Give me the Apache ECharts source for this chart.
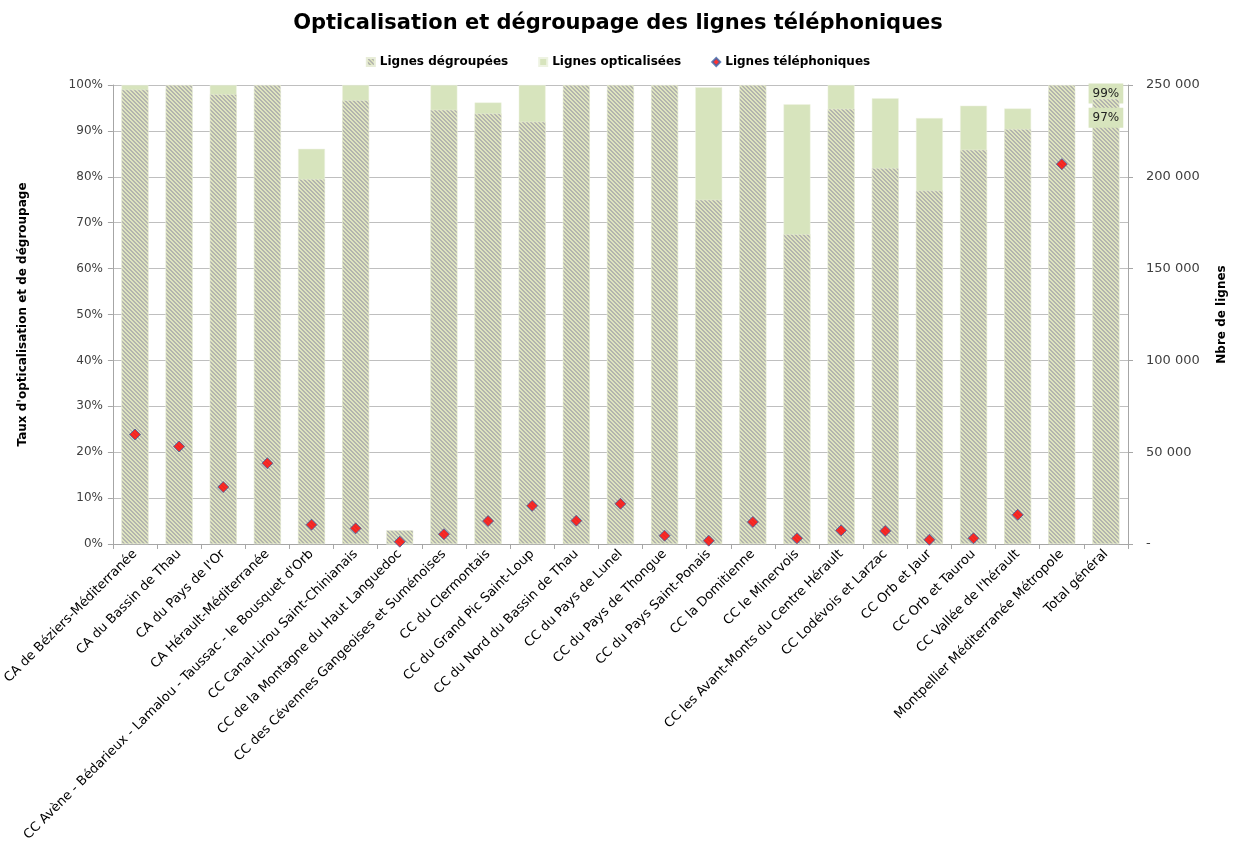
<!DOCTYPE html>
<html>
<head>
<meta charset="utf-8">
<script src="https://cdn.jsdelivr.net/npm/echarts@6/dist/echarts.min.js"></script>
<style>
html,body{margin:0;padding:0;background:#fff;}
#chart{width:1236px;height:844px;}
</style>
</head>
<body>
<div id="chart"></div>
<script>
const categories = [
  "CA de Béziers-Méditerranée",
  "CA du Bassin de Thau",
  "CA du Pays de l'Or",
  "CA Hérault-Méditerranée",
  "CC Avène - Bédarieux - Lamalou - Taussac - le Bousquet d'Orb",
  "CC Canal-Lirou Saint-Chinianais",
  "CC de la Montagne du Haut Languedoc",
  "CC des Cévennes Gangeoises et Suménoises",
  "CC du Clermontais",
  "CC du Grand Pic Saint-Loup",
  "CC du Nord du Bassin de Thau",
  "CC du Pays de Lunel",
  "CC du Pays de Thongue",
  "CC du Pays Saint-Ponais",
  "CC la Domitienne",
  "CC le Minervois",
  "CC les Avant-Monts du Centre Hérault",
  "CC Lodévois et Larzac",
  "CC Orb et Jaur",
  "CC Orb et Taurou",
  "CC Vallée de l'hérault",
  "Montpellier Méditerranée Métropole",
  "Total général"
];
// taux de dégroupage (%)
const degroupees = [99, 100, 98, 100, 79.5, 96.7, 3, 94.6, 93.8, 92, 100, 100, 100, 75, 100, 67.5, 94.8, 81.9, 77, 85.9, 90.4, 100, 97];
// taux d'opticalisation (%)
const opticalisees = [100, 99, 100, 99, 86.1, 100, 0, 100, 96.2, 100, 99, 99, 99, 99.5, 99, 95.8, 100, 97.1, 92.8, 95.5, 94.9, 99, 99];
// nombre de lignes téléphoniques
const telephoniques = [59600, 53100, 31000, 44000, 10500, 8500, 1250, 5300, 12500, 20800, 12700, 21900, 4500, 1800, 12000, 3100, 7400, 7100, 2300, 3100, 15900, 206900, null];
const leftTicks = [0, 10, 20, 30, 40, 50, 60, 70, 80, 90, 100];
const rightTicks = [0, 50000, 100000, 150000, 200000, 250000];
const labelledCategory = "Total général";

// hatch pattern for "Lignes dégroupées"
function makeHatch() {
  const c = document.createElement('canvas');
  c.width = 4; c.height = 4;
  const ctx = c.getContext('2d');
  ctx.fillStyle = '#DEE4BF';
  ctx.fillRect(0, 0, 4, 4);
  ctx.fillStyle = '#B3B4AE';
  for (let y = 0; y < 4; y++) {
    for (let x = 0; x < 4; x++) {
      const d = ((x - y) % 4 + 4) % 4;
      if (d === 0 || d === 1) ctx.fillRect(x, y, 1, 1);
    }
  }
  return c;
}
const hatch = { image: makeHatch(), repeat: 'repeat' };
const FONT = 'DejaVu Sans';
const lightGreen = '#D7E4BD';

const totalIdx = categories.indexOf(labelledCategory);
function withLabel(arr, dy) {
  return arr.map((v, i) => i === totalIdx ? {
    value: v,
    label: {
      show: true, position: 'insideTop', distance: 0, offset: [0, dy],
      formatter: p => Math.round(p.value) + '%',
      backgroundColor: lightGreen, color: '#222', fontFamily: FONT, fontSize: 12,
      padding: [4, 4]
    }
  } : v);
}
const optData = withLabel(opticalisees, -6);
const degData = withLabel(degroupees, 9);

const chart = echarts.init(document.getElementById('chart'));
chart.setOption({
  animation: false,
  textStyle: { fontFamily: FONT },
  title: {
    text: 'Opticalisation et dégroupage des lignes téléphoniques',
    left: 'center', top: 8,
    textStyle: { fontFamily: FONT, fontSize: 21, fontWeight: 'bold', color: '#000' }
  },
  legend: {
    top: 51, left: 'center', itemGap: 30, itemWidth: 8, itemHeight: 8,
    data: [
      { name: 'Lignes dégroupées', icon: 'rect' },
      { name: 'Lignes opticalisées', icon: 'rect' },
      { name: 'Lignes téléphoniques', icon: 'diamond' }
    ],
    textStyle: { fontFamily: FONT, fontSize: 12, fontWeight: 'bold', color: '#000' }
  },
  grid: { left: 112, right: 106, top: 85, bottom: 299, containLabel: false },
  xAxis: {
    type: 'category', data: categories,
    axisLine: { lineStyle: { color: '#A6A6A6' } },
    axisTick: { show: true, alignWithLabel: false, lineStyle: { color: '#A6A6A6' }, length: 5 },
    axisLabel: { rotate: 45, interval: 0, fontFamily: FONT, fontSize: 13, color: '#000', margin: 8 }
  },
  yAxis: [
    {
      type: 'value', min: 0, max: 100, interval: 10,
      name: "Taux d'opticalisation et de dégroupage",
      nameLocation: 'middle', nameGap: 84, nameRotate: 90,
      nameTextStyle: { fontFamily: FONT, fontSize: 12, fontWeight: 'bold', color: '#000' },
      axisLine: { show: true, lineStyle: { color: '#A6A6A6' } },
      axisTick: { show: true, length: 5, lineStyle: { color: '#A6A6A6' } },
      axisLabel: { formatter: v => v + '%', fontFamily: FONT, fontSize: 12, color: '#404040', margin: 10 },
      splitLine: { lineStyle: { color: '#BFBFBF' } }
    },
    {
      type: 'value', min: 0, max: 250000, interval: 50000, position: 'right',
      name: 'Nbre de lignes',
      nameLocation: 'middle', nameGap: 88, nameRotate: 90,
      nameTextStyle: { fontFamily: FONT, fontSize: 12, fontWeight: 'bold', color: '#000' },
      axisLine: { show: true, lineStyle: { color: '#A6A6A6' } },
      axisTick: { show: true, length: 5, lineStyle: { color: '#A6A6A6' } },
      axisLabel: {
        fontFamily: FONT, fontSize: 13, color: '#404040', margin: 18,
        formatter: v => v === 0 ? '-' : String(v).replace(/\B(?=(\d{3})+(?!\d))/g, ' ')
      },
      splitLine: { show: false }
    }
  ],
  series: [
    {
      name: 'Lignes opticalisées', type: 'bar', data: optData, barWidth: '61%',
      itemStyle: { color: lightGreen, borderColor: '#EEF3E2', borderWidth: 0.5 }, z: 2
    },
    {
      name: 'Lignes dégroupées', type: 'bar', data: degData, barWidth: '61%', barGap: '-100%',
      itemStyle: { color: hatch, borderColor: '#E8EDD8', borderWidth: 0.5 }, z: 3
    },
    {
      name: 'Lignes téléphoniques', type: 'scatter', yAxisIndex: 1, data: telephoniques,
      symbol: 'diamond', symbolSize: 11,
      itemStyle: { color: '#FF0000', borderColor: '#3A64A8', borderWidth: 1 }, z: 5
    }
  ]
});
</script>
</body>
</html>
